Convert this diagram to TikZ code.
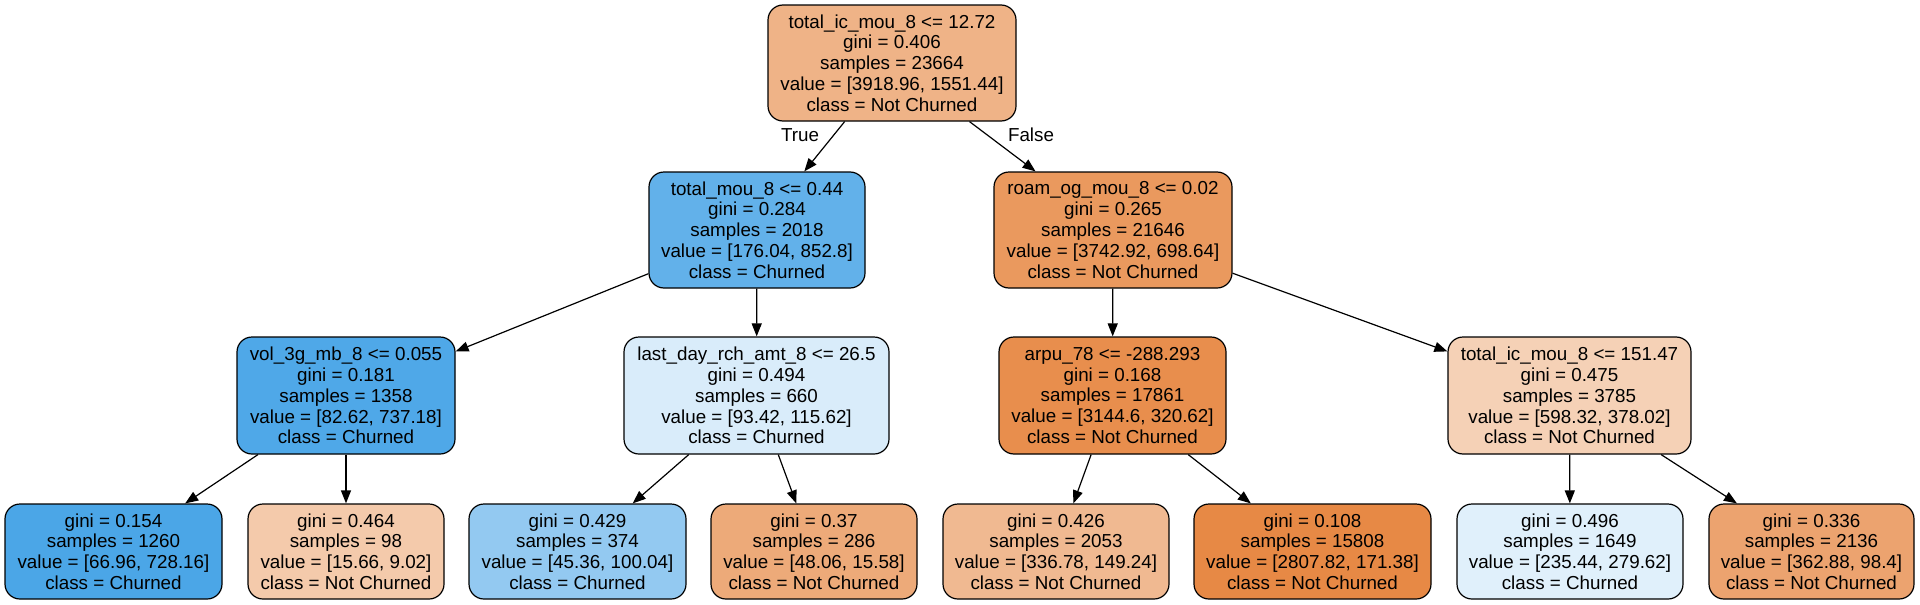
\documentclass[tikz,border=0pt]{standalone}
\usepackage{fontspec}
\setmainfont{Liberation Sans}
\usetikzlibrary{arrows.meta}
\definecolor{cR}{RGB}{239,179,135}
\definecolor{cA}{RGB}{98,177,234}
\definecolor{cB}{RGB}{234,153,94}
\definecolor{cC}{RGB}{79,168,232}
\definecolor{cD}{RGB}{217,236,250}
\definecolor{cE}{RGB}{232,142,77}
\definecolor{cF}{RGB}{245,209,182}
\definecolor{cL1}{RGB}{75,166,231}
\definecolor{cL2}{RGB}{244,202,171}
\definecolor{cL3}{RGB}{147,201,241}
\definecolor{cL4}{RGB}{237,170,121}
\definecolor{cL5}{RGB}{240,185,145}
\definecolor{cL6}{RGB}{231,137,69}
\definecolor{cL7}{RGB}{224,240,251}
\definecolor{cL8}{RGB}{236,163,111}
\tikzset{
  treebox/.style={draw=black, line width=1.2pt, rounded corners=15pt, inner sep=0pt,
    align=center, minimum height=116pt, font=\fontsize{18.8}{20.8}\selectfont},
  leafbox/.style={treebox, minimum height=95pt},
  edge/.style={draw=black, line width=1.2pt, -{Triangle[length=13pt,width=10pt]}},
  edgelabel/.style={font=\fontsize{18.8}{20.8}\selectfont, inner sep=0pt}
}
\begin{document}
\begin{tikzpicture}[x=1pt,y=-1pt]
\useasboundingbox (0,0) rectangle (1920,605);
\node[treebox, fill=cR, minimum width=248pt] (root) at (892,63)
  {total\_ic\_mou\_8 <= 12.72\\gini = 0.406\\samples = 23664\\value = [3918.96, 1551.44]\\class = Not Churned};
\node[treebox, fill=cA, minimum width=216pt] (n1) at (757,230)
  {total\_mou\_8 <= 0.44\\gini = 0.284\\samples = 2018\\value = [176.04, 852.8]\\class = Churned};
\node[treebox, fill=cB, minimum width=238pt] (n2) at (1113,230)
  {roam\_og\_mou\_8 <= 0.02\\gini = 0.265\\samples = 21646\\value = [3742.92, 698.64]\\class = Not Churned};
\node[treebox, fill=cC, minimum width=218pt, minimum height=117pt] (n3) at (346,395.5)
  {vol\_3g\_mb\_8 <= 0.055\\gini = 0.181\\samples = 1358\\value = [82.62, 737.18]\\class = Churned};
\node[treebox, fill=cD, minimum width=265pt, minimum height=117pt] (n4) at (756.5,395.5)
  {last\_day\_rch\_amt\_8 <= 26.5\\gini = 0.494\\samples = 660\\value = [93.42, 115.62]\\class = Churned};
\node[treebox, fill=cE, minimum width=227pt, minimum height=117pt] (n5) at (1112.5,395.5)
  {arpu\_78 <= -288.293\\gini = 0.168\\samples = 17861\\value = [3144.6, 320.62]\\class = Not Churned};
\node[treebox, fill=cF, minimum width=243pt, minimum height=117pt] (n6) at (1569.5,395.5)
  {total\_ic\_mou\_8 <= 151.47\\gini = 0.475\\samples = 3785\\value = [598.32, 378.02]\\class = Not Churned};
\node[leafbox, fill=cL1, minimum width=217pt] (l1) at (113.5,551.5)
  {gini = 0.154\\samples = 1260\\value = [66.96, 728.16]\\class = Churned};
\node[leafbox, fill=cL2, minimum width=196pt] (l2) at (346,551.5)
  {gini = 0.464\\samples = 98\\value = [15.66, 9.02]\\class = Not Churned};
\node[leafbox, fill=cL3, minimum width=217pt] (l3) at (577.5,551.5)
  {gini = 0.429\\samples = 374\\value = [45.36, 100.04]\\class = Churned};
\node[leafbox, fill=cL4, minimum width=206pt] (l4) at (814,551.5)
  {gini = 0.37\\samples = 286\\value = [48.06, 15.58]\\class = Not Churned};
\node[leafbox, fill=cL5, minimum width=226pt] (l5) at (1056,551.5)
  {gini = 0.426\\samples = 2053\\value = [336.78, 149.24]\\class = Not Churned};
\node[leafbox, fill=cL6, minimum width=237pt] (l6) at (1312.5,551.5)
  {gini = 0.108\\samples = 15808\\value = [2807.82, 171.38]\\class = Not Churned};
\node[leafbox, fill=cL7, minimum width=226pt] (l7) at (1570,551.5)
  {gini = 0.496\\samples = 1649\\value = [235.44, 279.62]\\class = Churned};
\node[leafbox, fill=cL8, minimum width=205pt] (l8) at (1811.5,551.5)
  {gini = 0.336\\samples = 2136\\value = [362.88, 98.4]\\class = Not Churned};
\draw[edge] (root) -- (n1);
\draw[edge] (root) -- (n2);
\draw[edge] (n1) -- (n3);
\draw[edge] (n1) -- (n4);
\draw[edge] (n2) -- (n5);
\draw[edge] (n2) -- (n6);
\draw[edge] (n3) -- (l1);
\draw[edge] (n3) -- (l2);
\draw[edge] (n4) -- (l3);
\draw[edge] (n4) -- (l4);
\draw[edge] (n5) -- (l5);
\draw[edge] (n5) -- (l6);
\draw[edge] (n6) -- (l7);
\draw[edge] (n6) -- (l8);
\node[edgelabel] (tlab) at (800,135) {True};
\node[edgelabel] (flab) at (1031,135) {False};
\end{tikzpicture}
\end{document}
